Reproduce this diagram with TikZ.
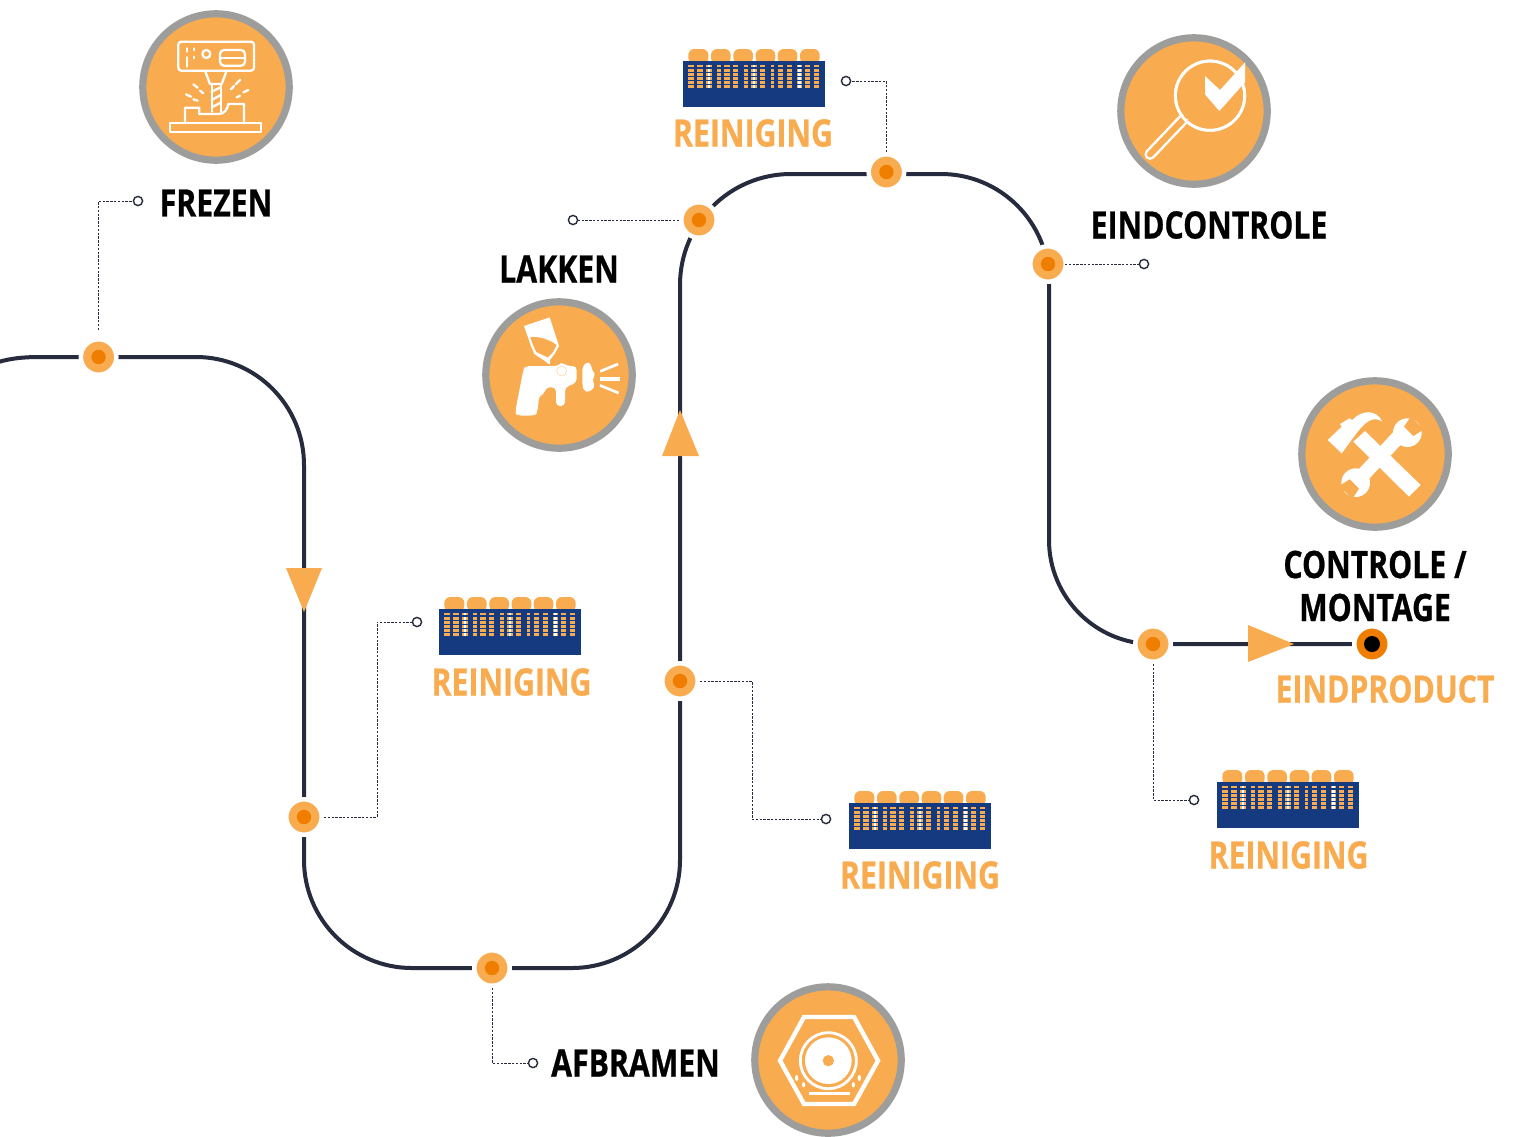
\documentclass[tikz,border=0pt]{standalone}
\usepackage{fontspec}
\usetikzlibrary{backgrounds}
\newfontfamily\labfont[FakeStretch=0.80,BoldFeatures={FakeBold=0.6}]{Open Sans}
\definecolor{amber}{HTML}{F9AB4F}
\definecolor{coreor}{HTML}{EF7D00}
\definecolor{ringgr}{HTML}{9D9D9C}
\definecolor{tankbl}{HTML}{153A80}
\definecolor{railc}{HTML}{262B3E}
\tikzset{
  rail/.style={draw=railc,line width=2pt},
  stopn/.style={circle,inner sep=0pt,minimum size=17.75pt,fill=amber,draw=white,line width=2.25pt,
    path picture={\fill[coreor] (path picture bounding box.center) circle (3.6pt);}},
  endn/.style={circle,inner sep=0pt,minimum size=17.75pt,fill=coreor,draw=white,line width=2.25pt,
    path picture={\fill[black] (path picture bounding box.center) circle (4pt);}},
  tipn/.style={circle,inner sep=0pt,minimum size=4.6pt,fill=white,draw=railc,line width=0.7pt},
  leader/.style={draw=railc,line width=0.5pt,dash pattern=on 1.2pt off 0.7pt},
  badge/.style={circle,inner sep=0pt,minimum size=73.2pt,fill=amber,draw=ringgr,line width=3.6pt},
  darklab/.style={font=\labfont\bfseries\fontsize{18.9}{21.5}\selectfont,text=black,align=center,inner sep=0pt},
  amblab/.style={font=\labfont\bfseries\fontsize{18.9}{21.5}\selectfont,text=amber,align=center,inner sep=0pt},
  zoomed/.style={x=0.16667pt,y=-0.16667pt},
  wl/.style={draw=white,line width=1.15pt,line join=round,line cap=round},
  tank/.pic={
    \begin{scope}[zoomed]
      \foreach \a/\b in {43/103,111/170,178/237,245/304,311/370,378/437}
        \fill[amber,rounded corners=3pt] (\a,80) -- (\a,36) -- (\b,36) -- (\b,80) -- cycle;
      \fill[tankbl] (27,73) rectangle (453,209);
      \foreach \c/\w in {51/16,78/16,135/10,159/16,185/16,216/10,266/16,296/10,320/16,346/16,401/16,428/16}
        \foreach \r in {87,100,112,125,137,149}
          \fill[amber] (\c-\w/2,\r-4) rectangle (\c+\w/2,\r+4);
      \foreach \c in {105,240,376}
        \foreach \r in {87,100,112,125,137,149}{
          \fill[amber] (\c-8,\r-4) rectangle (\c+8,\r+4);
          \fill[white] (\c-3.5,\r-4) rectangle (\c+3.5,\r+4);}
    \end{scope}
  }
}
\begin{document}
\begin{tikzpicture}[x=0.5pt,y=-0.5pt]
\useasboundingbox (0,0) rectangle (1513,1136);
\clip (0,0) rectangle (1513,1136);
% stops
\node[stopn] (s1) at (98.6,357) {};
\node[stopn] (s2) at (304,817) {};
\node[stopn] (s3) at (492,968) {};
\node[stopn] (s4) at (680,681) {};
\node[stopn] (s5) at (699,220) {};
\node[stopn] (s6) at (886.4,172) {};
\node[stopn] (s7) at (1048,264) {};
\node[stopn] (s8) at (1153,644) {};
\node[endn] (s9) at (1372,644) {};
% rail
\coordinate (c0) at (-10,365);
\begin{scope}[on background layer]
\draw[rail] (c0) .. controls (5,359) and (20,357) .. (40,357) -- (s1.center) -- (196,357)
  .. controls (255.6,357) and (304,405.4) .. (304,465) -- (s2.center) -- (304,860)
  .. controls (304,919.6) and (352.4,968) .. (412,968) -- (s3.center) -- (572,968)
  .. controls (631.6,968) and (680,919.6) .. (680,860) -- (s4.center) -- (680,285)
  .. controls (680,223.7) and (729.7,174) .. (791,174) -- (941,174)
  .. controls (1000.6,174) and (1049,222.4) .. (1049,282) -- (1049,540)
  .. controls (1049,597.4) and (1095.6,644) .. (s8.center) -- (s9.center);
\end{scope}
% arrowheads
\fill[amber] (286,568) -- (322,568) -- (304,612) -- cycle;
\fill[amber] (662,456) -- (699,456) -- (680,410) -- cycle;
\fill[amber] (1248,625) -- (1248,662) -- (1294,644) -- cycle;
% leader tips
\node[tipn] (e1) at (138,201) {};
\node[tipn] (e2) at (417,622) {};
\node[tipn] (e3) at (533,1063) {};
\node[tipn] (e4) at (826,819) {};
\node[tipn] (e5) at (573,220) {};
\node[tipn] (e6) at (846,81) {};
\node[tipn] (e7) at (1144,264) {};
\node[tipn] (e8) at (1194,800) {};
\draw[leader,shorten <=3.5pt] (s1.north) |- (e1.west);
\draw[leader] (s2.east) -| (377,622) -- (e2.west);
\draw[leader] (s3.south) |- (e3.west);
\draw[leader] (s4.east) -| (752,819) -- (e4.west);
\draw[leader] (s5.west) -- (e5.east);
\draw[leader] (s6.north) |- (e6.east);
\draw[leader,shorten <=-1.5pt] (s7.east) -- (e7.west);
\draw[leader] (s8.south) |- (e8.west);
% labels
\node[darklab] (lfrez) at (216,203) {FREZEN};
\node[darklab] (llak) at (559,269) {LAKKEN};
\node[darklab] (leind) at (1209,225) {EINDCONTROLE};
\node[darklab] (lcon) at (1375,586) {CONTROLE /\\MONTAGE};
\node[darklab] (lafb) at (635.5,1063) {AFBRAMEN};
\node[amblab] (lprod) at (1385,689) {EINDPRODUCT};
\node[amblab] (lr1) at (511.5,682) {REINIGING};
\node[amblab] (lr2) at (753,133) {REINIGING};
\node[amblab] (lr3) at (920,875) {REINIGING};
\node[amblab] (lr4) at (1288.5,855) {REINIGING};
% tanks
\pic at (430,585) {tank};
\pic at (840,779) {tank};
\pic at (1208,758) {tank};
\pic at (674,37) {tank};
% badges
\node[badge] (b1) at (216,87) {};
\node[badge] (b2) at (559,375) {};
\node[badge] (b3) at (1194,111) {};
\node[badge] (b4) at (1375,454) {};
\node[badge] (b5) at (828,1060) {};
% mill icon
\begin{scope}[shift={(130,0)},zoomed]
  \draw[wl,rounded corners=1.5pt] (145,125) -- (372,125) -- (372,212) -- (145,212) -- cycle;
  \draw[wl] (170,145) -- (170,155) (170,172) -- (170,200) (192,145) -- (192,150) (192,170) -- (192,175);
  \draw[wl] (229,162) circle (12);
  \draw[wl,rounded corners=2pt] (270,150) rectangle (345,197);
  \draw[wl] (270,173) -- (345,173);
  \draw[wl] (225,212) -- (240,252) -- (275,252) -- (290,212);
  \draw[wl] (245,252) -- (245,335) (272,252) -- (272,335);
  \draw[wl] (245,275) -- (272,262) (245,300) -- (272,285) (245,322) -- (272,308);
  \draw[wl] (165,370) -- (165,323) -- (208,323) -- (208,342) -- (265,342) .. controls (282,342) and (292,330) .. (295,312) -- (342,312) -- (342,370);
  \draw[wl] (120,370) rectangle (393,396);
  \draw[wl] (190,253) -- (203,263) (210,272) -- (220,280) (168,283) -- (183,290) (190,298) -- (203,302);
  \draw[wl] (330,240) -- (318,252) (312,258) -- (303,268) (355,270) -- (340,277) (330,287) -- (320,292);
\end{scope}
% spray gun icon
\begin{scope}[shift={(475,290)},zoomed]
  \fill[white] (147,108) -- (224,82) -- (252,168) -- (240,190) -- (226,208) -- (224,224) -- (208,212) -- (178,192) -- (168,168) -- cycle;
  \fill[amber] (166,142) .. controls (195,138) and (225,150) .. (245,165) -- (234,186) -- (218,202) -- (184,186) -- (174,165) -- cycle;
  \fill[white,rounded corners=2pt] (150,228) -- (250,228) .. controls (260,218) and (270,224) .. (276,228) -- (305,228) -- (305,278) -- (270,292) -- (270,348) -- (243,348) -- (243,292) -- (212,292) -- (208,314) -- (193,314) -- (187,368) -- (178,377) -- (128,377) -- (120,368) -- (145,240) -- cycle;
  \draw[amber!55,line width=0.25pt] (260,243) circle (15);
  \fill[white,rounded corners=1.5pt] (322,232) -- (335,215) -- (348,222) -- (352,245) -- (362,252) -- (352,268) -- (360,290) -- (345,305) -- (328,305) -- (322,285) -- cycle;
  \fill[white] (375,240) -- (428,218) -- (431,226) -- (376,248) -- cycle;
  \fill[white] (375,262) -- (435,262) -- (435,273) -- (375,273) -- cycle;
  \fill[white] (375,282) -- (432,305) -- (430,313) -- (374,290) -- cycle;
\end{scope}
% magnifier icon
\begin{scope}[shift={(1110,25)},zoomed]
  \draw[draw=white,line width=1.4pt] (300,212) circle (104);
  \draw[white,line width=5.6pt,line cap=round] (218,285) -- (120,388);
  \draw[amber,line width=3.1pt,line cap=round] (224,279) -- (120,388);
  \draw[draw=white,line width=1.4pt] (300,212) circle (104);
  \fill[white] (285,153) -- (330,195) -- (405,112) -- (405,172) -- (328,258) -- (285,208) -- cycle;
\end{scope}
% tools icon
\begin{scope}[shift={(1290,370)},zoomed]
  \fill[white] (352,188) circle (43);
  \fill[white] (197,338) circle (43);
  \fill[white] (220,345) -- (190,315) -- (320,175) -- (350,205) -- cycle;
  \fill[amber] (342,170) -- (362,140) -- (402,178) -- (370,198) -- cycle;
  \fill[amber] (207,356) -- (187,386) -- (147,348) -- (179,328) -- cycle;
  \fill[white] (190,215) -- (225,183) -- (392,345) -- (357,380) -- cycle;
  \fill[white] (113,210) -- (155,170) -- (150,162) -- (178,145) -- (187,150) .. controls (215,118) and (260,118) .. (277,155) .. controls (250,138) and (228,150) .. (192,200) -- (155,250) -- cycle;
\end{scope}
% deburr icon
\begin{scope}[shift={(745,976)},zoomed]
  \draw[draw=white,line width=2.2pt,line join=miter] (105,254) -- (177,123) -- (327,123) -- (399,254) -- (327,384) -- (177,384) -- cycle;
  \draw[draw=white,line width=1.4pt] (250,254) circle (84);
  \fill[white] (250,254) circle (70);
  \fill[amber] (250,254) circle (17);
  \fill[white] (192,348) rectangle (316,357);
  \fill[white] (155,306) ellipse (5 and 9);
  \fill[white] (176,326) ellipse (5 and 8);
  \fill[white] (343,306) ellipse (5 and 9);
  \fill[white] (325,326) ellipse (5 and 8);
\end{scope}
\end{tikzpicture}
\end{document}
